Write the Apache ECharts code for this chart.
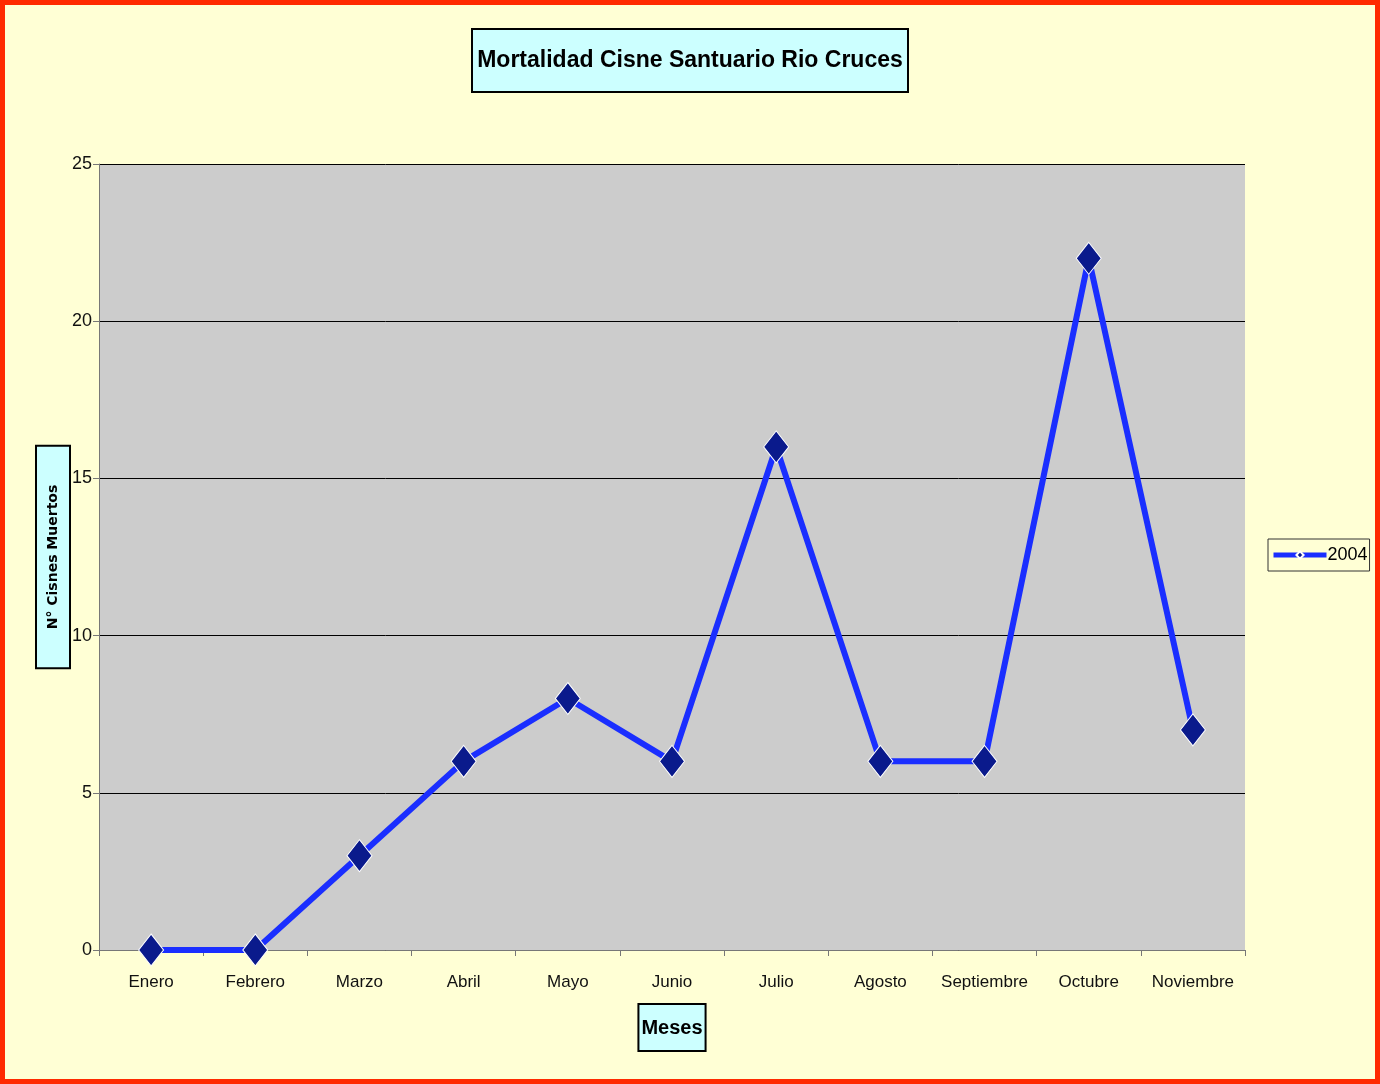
<!DOCTYPE html>
<html><head><meta charset="utf-8">
<script src="https://cdn.jsdelivr.net/npm/echarts@6/dist/echarts.min.js"></script>
<style>html,body{margin:0;padding:0;background:#FFFFD5}#c{width:1380px;height:1084px}</style>
</head><body><div id="c"></div>
<script>
const categories = ['Enero','Febrero','Marzo','Abril','Mayo','Junio','Julio','Agosto','Septiembre','Octubre','Noviembre'];
const values2004 = [0,0,3,6,8,6,16,6,6,22,7];
const seriesName = '2004';
const yTicks = [0,5,10,15,20,25];
const FONT = '"Liberation Sans",Arial,sans-serif';

const chart = echarts.init(document.getElementById('c'), null, {renderer:'canvas'});
chart.setOption({
  backgroundColor:'#FFFFD5',
  animation:false,
  graphic:[{type:'rect',shape:{x:0,y:0,width:1380,height:1084},style:{fill:'none',stroke:'#FF2A00',lineWidth:10},silent:true}],
  title:{
    text:'Mortalidad Cisne Santuario Rio Cruces',
    left:'center', top:29,
    backgroundColor:'#CCFFFF', borderColor:'#000', borderWidth:2,
    padding:[20,5,20,5],
    textStyle:{fontFamily:FONT,fontWeight:'bold',fontSize:23,color:'#000'}
  },
  legend:{
    data:[seriesName], left:1268, top:539, orient:'vertical',
    backgroundColor:'#FFFFD5', borderColor:'#333', borderWidth:1,
    padding:[7,2,7,3], itemWidth:53, itemHeight:9, itemGap:0,
    lineStyle:{width:5,color:'#1A2EFF'},
    textStyle:{fontFamily:FONT,fontSize:18,color:'#000',padding:[0,0,0,-4]}
  },
  grid:{left:99,right:135,top:164,bottom:134,show:true,backgroundColor:'#CCCCCC',borderWidth:0},
  xAxis:{
    type:'category', data:categories, boundaryGap:true,
    name:'Meses', nameLocation:'middle', nameGap:55,
    nameTextStyle:{fontFamily:FONT,fontWeight:'bold',fontSize:20,color:'#000',backgroundColor:'#CCFFFF',borderColor:'#000',borderWidth:2,padding:[13,2,12,2]},
    axisLine:{lineStyle:{color:'#777',width:1}},
    axisTick:{show:true,length:6,lineStyle:{color:'#777'}},
    axisLabel:{interval:0,fontFamily:FONT,fontSize:17,color:'#111',margin:24}
  },
  yAxis:{
    type:'value', min:0, max:25, interval:5,
    name:'N° Cisnes Muertos', nameLocation:'middle', nameGap:30, nameRotate:90, nameMoveOverlap:false,
    nameTextStyle:{fontFamily:'"DejaVu Sans",sans-serif',fontWeight:'bold',fontSize:14,color:'#000',backgroundColor:'#CCFFFF',borderColor:'#000',borderWidth:2,padding:[9,38,9,38]},
    axisLine:{show:true,lineStyle:{color:'#777',width:1}},
    axisTick:{show:true,length:6,lineStyle:{color:'#777'}},
    axisLabel:{fontFamily:FONT,fontSize:18,color:'#111',margin:7,
      formatter:v=>yTicks.includes(v)?String(v):''},
    splitLine:{show:true,lineStyle:{color:'#000',width:1}}
  },
  series:[{
    name:seriesName, type:'line', data:values2004,
    lineStyle:{color:'#1A2EFF',width:6},
    itemStyle:{color:'#0A1A8C',borderColor:'#FFFFFF',borderWidth:1},
    symbol:'diamond', symbolSize:[25,32], showAllSymbol:true, z:3
  }]
});
</script></body></html>
